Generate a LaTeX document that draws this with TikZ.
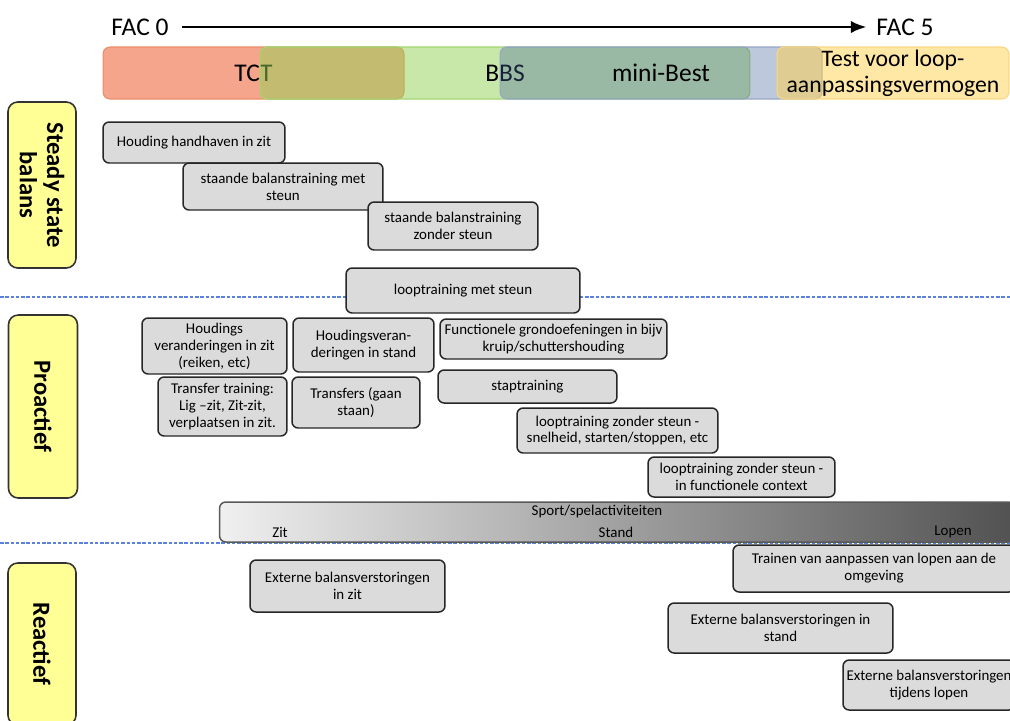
\documentclass[tikz,border=0pt]{standalone}
\usepackage{fontspec}
\setmainfont{Carlito}
\usetikzlibrary{arrows.meta}

\definecolor{tctorange}{RGB}{244,165,140}
\definecolor{tctline}{RGB}{235,140,100}
\definecolor{bbsgreen}{RGB}{145,209,85}
\definecolor{bbsline}{RGB}{160,215,110}
\definecolor{mbblue}{RGB}{69,98,155}
\definecolor{mbline}{RGB}{150,165,200}
\definecolor{ltyellow}{RGB}{255,209,75}
\definecolor{ltline}{RGB}{250,215,130}
\definecolor{faseyellow}{RGB}{255,255,150}
\definecolor{sepblue}{RGB}{90,130,220}

\tikzstyle{schaal} = [font=\fontsize{14.5}{16}\selectfont]
\tikzstyle{meetband} = [rectangle, rounded corners=4pt, line width=0.6pt, minimum height=1.04cm, inner ysep=0pt, text opacity=1, align=center, font=\fontsize{14.5}{16}\selectfont]
\tikzstyle{fase} = [rectangle, rounded corners=5.5pt, draw=black!80, line width=0.9pt, fill=faseyellow, align=center, rotate=-90, font=\fontsize{14}{15.5}\selectfont\bfseries]
\tikzstyle{oefening} = [rectangle, rounded corners=3.5pt, draw=black!85, line width=0.85pt, fill=black!14, align=center, inner sep=1pt, font=\fontsize{8.5}{9.6}\selectfont]
\tikzstyle{sportlabel} = [inner sep=1pt, font=\fontsize{8.5}{9.6}\selectfont]
\tikzstyle{scheiding} = [draw=sepblue, line width=0.8pt, dash pattern=on 2pt off 1pt]

\begin{document}
\begin{tikzpicture}[x=0.02cm, y=-0.02cm]
\useasboundingbox (0,0) rectangle (1010,720);
% FAC-as
\node [schaal] (fac0) at (140,27) {FAC 0};
\node [schaal] (fac5) at (905,27) {FAC 5};
\draw [-{Latex[length=9pt,width=7pt]}, line width=1.7pt, shorten <=4pt, shorten >=2pt] (fac0) -- (fac5);
% meetinstrumenten
\node [meetband, draw=tctline, fill=tctorange, minimum width=6.02cm] (tct) at (253.5,73) {TCT};
\node [meetband, draw=bbsline, fill=bbsgreen, fill opacity=0.5, minimum width=9.8cm] (bbs) at (505,73) {BBS};
\node [meetband, draw=mbline, fill=mbblue, fill opacity=0.35, minimum width=6.44cm] (mb) at (661,73) {mini-Best};
\node [meetband, draw=ltline, fill=ltyellow, fill opacity=0.5, minimum width=4.64cm, font=\fontsize{13.5}{15}\selectfont] (lat) at (893,73) {Test voor loop-\\aanpassingsvermogen};
% scheidingslijnen
\draw [scheiding] (0,297) -- (1010,297);
\draw [scheiding] (0,543) -- (1010,543);
% fasen
\node [fase, minimum width=3.32cm, minimum height=1.36cm] (steady) at (42,185) {Steady state\\balans};
\node [fase, minimum width=3.66cm, minimum height=1.38cm] (proactief) at (43,406.5) {Proactief};
\node [fase, minimum width=3.24cm, minimum height=1.36cm] (reactief) at (42,644) {Reactief};
% steady state
\node [oefening, minimum width=3.64cm, minimum height=0.82cm] (hhz) at (194,142.5) {Houding handhaven in zit};
\node [oefening, minimum width=4.0cm, minimum height=0.94cm] (sbm) at (283,186.5) {staande balanstraining met\\steun};
\node [oefening, minimum width=3.4cm, minimum height=0.96cm] (sbz) at (453,226) {staande balanstraining\\zonder steun};
\node [oefening, minimum width=4.68cm, minimum height=0.9cm] (lms) at (463,290.5) {looptraining met steun};
% proactief
\node [oefening, minimum width=2.9cm, minimum height=1.12cm] (hvz) at (214.5,346) {Houdings\\veranderingen in zit\\(reiken, etc)};
\node [oefening, minimum width=2.82cm, minimum height=1.08cm] (hvs) at (363.5,345) {Houdingsveran-\\deringen in stand};
\node [oefening, minimum width=4.54cm, minimum height=0.8cm] (fgo) at (553.5,339) {Functionele grondoefeningen in bijv\\kruip/schuttershouding};
\node [oefening, minimum width=2.58cm, minimum height=1.18cm] (ttr) at (222.5,406.5) {Transfer training:\\Lig –zit, Zit-zit,\\verplaatsen in zit.};
\node [oefening, minimum width=2.56cm, minimum height=1.02cm] (tgs) at (356,402.5) {Transfers (gaan\\staan)};
\node [oefening, minimum width=3.58cm, minimum height=0.66cm] (stap) at (527.5,386.5) {staptraining};
\node [oefening, minimum width=4.02cm, minimum height=0.9cm] (lzs) at (617.5,430.5) {looptraining zonder steun -\\snelheid, starten/stoppen, etc};
\node [oefening, minimum width=3.74cm, minimum height=0.8cm] (lzf) at (741.5,477) {looptraining zonder steun -\\in functionele context};
\node [oefening, draw=black!65, left color=black!6, middle color=black!22, right color=black!68, minimum width=15.9cm, minimum height=0.8cm] (sport) at (617,522) {};
\node [sportlabel] (sporttxt) at (597,512) {Sport/spelactiviteiten};
\node [sportlabel] (zit) at (280,532) {Zit};
\node [sportlabel] (stand) at (616,532) {Stand};
\node [sportlabel] (lopen) at (953,532) {Lopen};
% reactief
\node [oefening, minimum width=3.9cm, minimum height=1.04cm] (ebz) at (347.5,586) {Externe balansverstoringen\\in zit};
\node [oefening, minimum width=5.64cm, minimum height=0.94cm] (tal) at (874,568.5) {Trainen van aanpassen van lopen aan de\\omgeving};
\node [oefening, minimum width=4.5cm, minimum height=1.0cm] (ebs) at (780.5,628) {Externe balansverstoringen in\\stand};
\node [oefening, minimum width=3.44cm, minimum height=1.0cm] (ebl) at (929,685) {Externe balansverstoringen\\tijdens lopen};
\end{tikzpicture}
\end{document}
